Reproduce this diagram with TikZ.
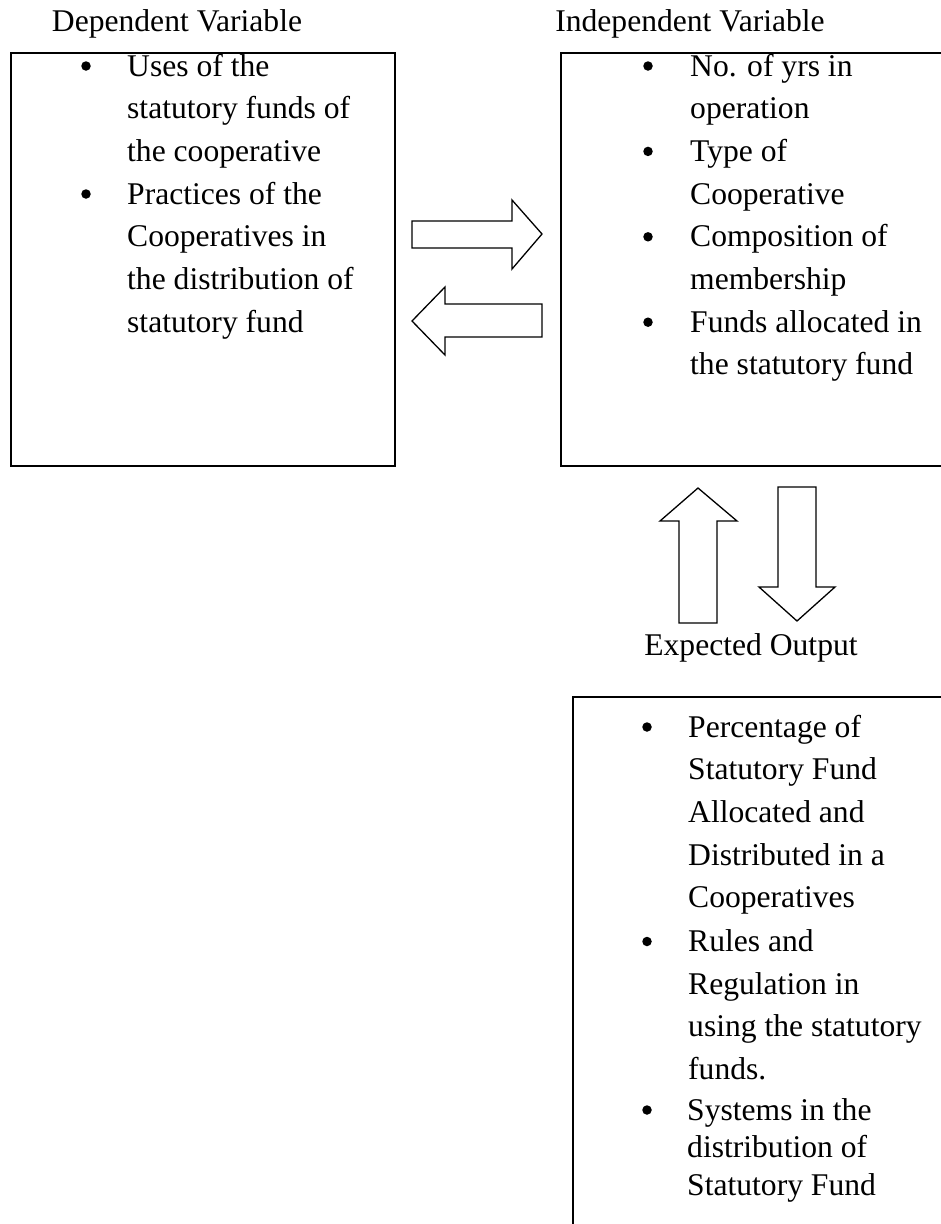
\documentclass[tikz,border=0pt]{standalone}
\usepackage{fontspec}
\setmainfont{Liberation Serif}
\newcommand{\lines}[1]{\begin{tabular}[t]{@{}l@{}}#1\end{tabular}}
\begin{document}
\begin{tikzpicture}[x=1pt,y=-1pt,
  txt/.style={inner sep=0pt,font=\fontsize{31.6}{42.7}\selectfont},
  item/.style={txt,anchor=base west},
  tightitem/.style={inner sep=0pt,anchor=base west,font=\fontsize{31.6}{37.5}\selectfont},
  bul/.style={circle,fill=black,inner sep=0pt,minimum size=9.5pt},
  box/.style={draw,line width=1.5pt,anchor=north west,inner sep=0pt},
  fatarrow/.style={draw,line width=1.3pt,fill=white,line join=miter}]
\useasboundingbox (0,0) rectangle (941,1224);
\fill[white] (0,0) rectangle (941,1224);

% titles
\node[txt,anchor=base] (deptitle) at (177,31) {Dependent Variable};
\node[txt,anchor=base] (indtitle) at (690,31) {Independent Variable};
\node[txt,anchor=base] (outtitle) at (751,655) {Expected Output};

% boxes
\node[box,minimum width=384pt,minimum height=413pt] (depbox) at (10,52) {};
\node[box,minimum width=420pt,minimum height=413pt] (indbox) at (560,52) {};
\node[box,minimum width=420pt,minimum height=600pt] (outbox) at (572,696) {};

% dependent items
\node[bul] (db1) at (86,66) {};
\node[item] (di1) at (127,76) {\lines{Uses of the\\statutory funds of\\the cooperative}};
\node[bul] (db2) at (86,194) {};
\node[item] (di2) at (127,204) {\lines{Practices of the\\Cooperatives in\\the distribution of\\statutory fund}};

% independent items
\node[bul] (ib1) at (648,66) {};
\node[item] (ii1) at (690,76) {\lines{No. of yrs in\\operation}};
\node[bul] (ib2) at (648,151.4) {};
\node[item] (ii2) at (690,161.4) {\lines{Type of\\Cooperative}};
\node[bul] (ib3) at (648,236.8) {};
\node[item] (ii3) at (690,246.8) {\lines{Composition of\\membership}};
\node[bul] (ib4) at (648,322.2) {};
\node[item] (ii4) at (690,332.2) {\lines{Funds allocated in\\the statutory fund}};

% output items
\node[bul] (ob1) at (647,727) {};
\node[item] (oi1) at (688,737) {\lines{Percentage of\\Statutory Fund\\Allocated and\\Distributed in a\\Cooperatives}};
\node[bul] (ob2) at (647,941.5) {};
\node[item] (oi2) at (688,951.5) {\lines{Rules and\\Regulation in\\using the statutory\\funds.}};
\node[bul] (ob3) at (647,1110) {};
\node[tightitem] (oi3) at (687,1120) {\lines{Systems in the\\distribution of\\Statutory Fund}};

% block arrows
\draw[fatarrow] (412,221) -- (512,221) -- (512,200) -- (542,234) -- (512,269) -- (512,248) -- (412,248) -- cycle;
\draw[fatarrow] (542,304) -- (445,304) -- (445,287) -- (412,321) -- (445,355) -- (445,337) -- (542,337) -- cycle;
\draw[fatarrow] (679,623) -- (679,521) -- (660,521) -- (698,488) -- (737,521) -- (717,521) -- (717,623) -- cycle;
\draw[fatarrow] (778,487) -- (778,587) -- (759,587) -- (797,621) -- (835,587) -- (816,587) -- (816,487) -- cycle;
\end{tikzpicture}
\end{document}
